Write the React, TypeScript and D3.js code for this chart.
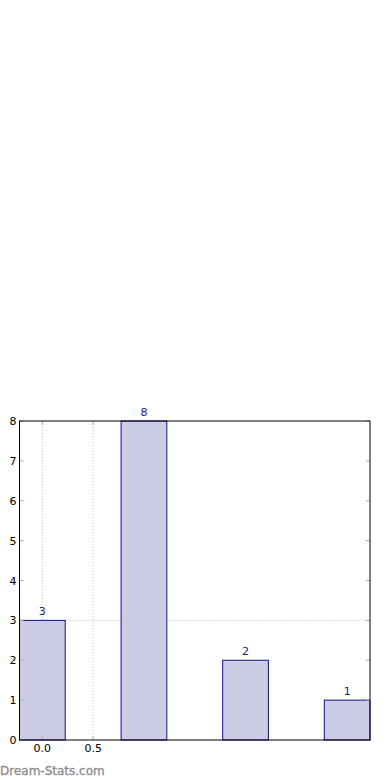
import React from "react";
import * as d3 from "d3";

const categories = [0, 1, 2, 3];
const values = [3, 8, 2, 1];
const xTicks = [0.0, 0.5];
const yTicks = [0, 1, 2, 3, 4, 5, 6, 7, 8];
const yGrid = [3];

export default function App() {
  const W = 390, H = 780;
  const left = 19.5, right = 370, top = 421, bottom = 740;
  const barW = 0.45;
  const x = d3.scaleLinear().domain([-0.225, 3.225]).range([left, right]);
  const y = d3.scaleLinear().domain([0, 8]).range([bottom, top]);
  const font = "DejaVu Sans, sans-serif";
  return (
    <svg width={W} height={H} style={{ position: "absolute", left: 0, top: 0 }} fontFamily={font}>
      <rect x={0} y={0} width={W} height={H} fill="#fff" />
      {/* grid */}
      {xTicks.map((t) => (
        <line key={"gx" + t} x1={x(t)} x2={x(t)} y1={top} y2={bottom} stroke="#c0c0c0" strokeDasharray="1,2" />
      ))}
      {yGrid.map((t) => (
        <line key={"gy" + t} x1={left} x2={right} y1={y(t)} y2={y(t)} stroke="#c0c0c0" strokeDasharray="1,2" />
      ))}
      {/* bars */}
      {categories.map((c, i) => {
        const x0 = Math.max(x(c - barW / 2), left);
        const x1 = Math.min(x(c + barW / 2), right);
        return (
          <g key={"b" + i}>
            <rect x={x0} y={y(values[i])} width={x1 - x0} height={bottom - y(values[i])} fill="#ccccE5" stroke="#10108f" strokeWidth={1} />
            <text x={x(c)} y={y(values[i]) - 5} textAnchor="middle" fontSize={11} fill="#1a1a8a">{values[i]}</text>
          </g>
        );
      })}
      {/* y ticks */}
      {yTicks.map((t) => (
        <g key={"yt" + t}>
          <line x1={left} x2={left + 4} y1={y(t)} y2={y(t)} stroke="#aaa" />
          <line x1={right - 4} x2={right} y1={y(t)} y2={y(t)} stroke="#aaa" />
          <text x={left - 3} y={y(t) + 4} textAnchor="end" fontSize={11} fill="#000">{t}</text>
        </g>
      ))}
      {xTicks.map((t) => (
        <g key={"xt" + t}>
          <line x1={x(t)} x2={x(t)} y1={bottom} y2={bottom - 4} stroke="#aaa" />
          <line x1={x(t)} x2={x(t)} y1={top} y2={top + 4} stroke="#aaa" />
          <text x={x(t)} y={bottom + 12} textAnchor="middle" fontSize={11} fill="#000">{t.toFixed(1)}</text>
        </g>
      ))}
      {/* frame */}
      <rect x={left} y={top} width={right - left} height={bottom - top} fill="none" stroke="#000" strokeWidth={1} />
      <text x={0} y={775} fontSize={12} fill="#8c8c8c" stroke="#8c8c8c" strokeWidth={0.3}>Dream-Stats.com</text>
    </svg>
  );
}
